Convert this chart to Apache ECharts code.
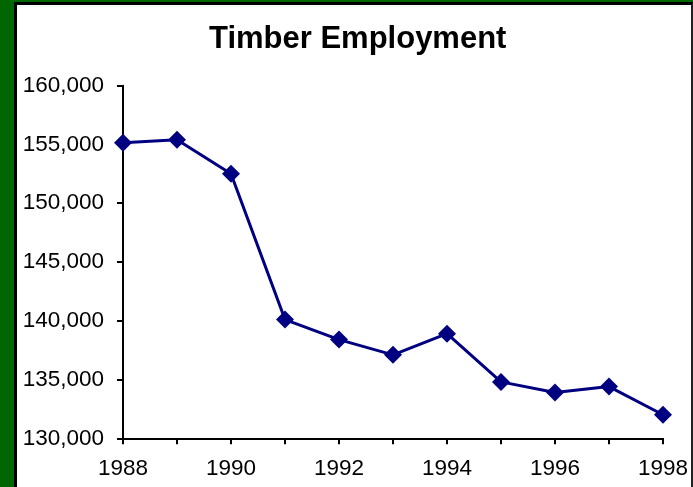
<!DOCTYPE html>
<html>
<head>
<meta charset="utf-8">
<script src="https://cdn.jsdelivr.net/npm/echarts@6/dist/echarts.min.js"></script>
<style>
html,body{margin:0;padding:0;width:693px;height:487px;overflow:hidden;background:#006600;}
#frame{position:absolute;left:14px;top:2px;width:674px;height:490px;background:#fff;border-left:3px solid #000;border-top:3px solid #000;border-right:2px solid #222;}
#chart{position:absolute;left:0;top:0;width:693px;height:487px;}
</style>
</head>
<body>
<div id="frame"></div>
<div id="chart"></div>
<script>
const titleText = "Timber Employment";
const years = ["1988","1989","1990","1991","1992","1993","1994","1995","1996","1997","1998"];
const employment = [155150, 155400, 152500, 140100, 138400, 137100, 138900, 134800, 133900, 134400, 132000];
const yMin = 130000, yMax = 160000, yStep = 5000;

const chart = echarts.init(document.getElementById('chart'), null, {renderer:'canvas'});
const font = '"Liberation Sans", Arial, sans-serif';
chart.setOption({
  backgroundColor: 'transparent',
  animation: false,
  title: {
    text: titleText,
    left: 204, top: 19,
    textStyle: {fontFamily: font, fontSize: 31, fontWeight: 'bold', color: '#000'}
  },
  grid: {left: 123, right: 30, top: 85.7, bottom: 48.7, containLabel: false},
  xAxis: {
    type: 'category',
    data: years,
    boundaryGap: false,
    axisLine: {lineStyle: {color: '#000', width: 2}},
    axisTick: {show: true, interval: 0, length: 6, inside: false, lineStyle: {color: '#000', width: 2}},
    axisLabel: {interval: 1, margin: 19, fontFamily: font, fontSize: 22.5, color: '#000'},
    splitLine: {show: false}
  },
  yAxis: {
    type: 'value',
    min: yMin, max: yMax, interval: yStep,
    axisLine: {show: true, lineStyle: {color: '#000', width: 2}},
    axisTick: {show: true, length: 6, lineStyle: {color: '#000', width: 2}},
    axisLabel: {margin: 19, fontFamily: font, fontSize: 22.5, color: '#000',
      formatter: v => v.toString().replace(/\B(?=(\d{3})+(?!\d))/g, ',')},
    splitLine: {show: false}
  },
  series: [{
    type: 'line',
    data: employment,
    symbol: 'diamond',
    symbolSize: 18,
    itemStyle: {color: '#000080'},
    lineStyle: {color: '#000080', width: 3},
    clip: false
  }]
});
</script>
</body>
</html>
